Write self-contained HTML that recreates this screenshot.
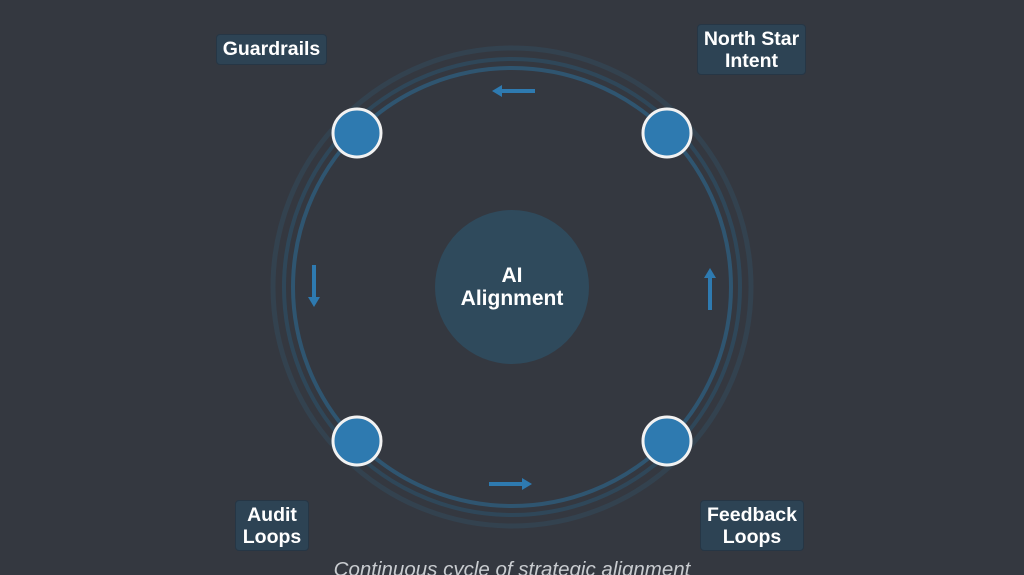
<!DOCTYPE html>
<html><head><style>
html,body{margin:0;padding:0;background:#343840;}
body{width:1024px;height:575px;overflow:hidden;position:relative;font-family:"Liberation Sans",sans-serif;}
.lbl{position:absolute;background:#2d4354;border:1px solid #263645;border-radius:4px;color:#fff;font-weight:bold;font-size:19.5px;line-height:22px;text-align:center;box-sizing:border-box;white-space:nowrap;}
</style></head><body>
<svg width="1024" height="575" style="position:absolute;left:0;top:0">
<circle cx="512" cy="287" r="239" fill="none" stroke="#33495a" stroke-width="5" opacity="0.6"/>
<circle cx="512" cy="287" r="228" fill="none" stroke="#2f4a5e" stroke-width="4" opacity="0.85"/>
<circle cx="512" cy="287" r="219" fill="none" stroke="#2f5570" stroke-width="4"/>
<circle cx="512" cy="287" r="77" fill="#2f4a5c"/>
<text x="512" y="282" fill="#fff" font-size="21" font-weight="bold" text-anchor="middle" font-family="Liberation Sans">AI</text>
<text x="512" y="305" fill="#fff" font-size="21" font-weight="bold" text-anchor="middle" font-family="Liberation Sans">Alignment</text>
<g fill="#2e7ab0" stroke="#f2f2f2" stroke-width="3">
<circle cx="357" cy="133" r="24"/><circle cx="667" cy="133" r="24"/>
<circle cx="357" cy="441" r="24"/><circle cx="667" cy="441" r="24"/>
</g>
<g stroke="#2e7ab0" stroke-width="4" fill="#2e7ab0">
<line x1="535" y1="91" x2="500" y2="91"/><polygon points="492,91 502,85 502,97" stroke="none"/>
<line x1="489" y1="484" x2="524" y2="484"/><polygon points="532,484 522,478 522,490" stroke="none"/>
<line x1="314" y1="265" x2="314" y2="299"/><polygon points="314,307 308,297 320,297" stroke="none"/>
<line x1="710" y1="310" x2="710" y2="276"/><polygon points="710,268 704,278 716,278" stroke="none"/>
</g>
<text x="512" y="576" fill="#c9ccd0" font-size="20.5" font-style="italic" text-anchor="middle" font-family="Liberation Sans">Continuous cycle of strategic alignment</text>
</svg>
<div class="lbl" style="left:216px;top:34px;width:111px;height:31px;padding-top:3px">Guardrails</div>
<div class="lbl" style="left:697px;top:24px;width:109px;height:51px;padding-top:3px">North Star<br>Intent</div>
<div class="lbl" style="left:235px;top:500px;width:74px;height:51px;padding-top:3px">Audit<br>Loops</div>
<div class="lbl" style="left:700px;top:500px;width:104px;height:51px;padding-top:3px">Feedback<br>Loops</div>
</body></html>
